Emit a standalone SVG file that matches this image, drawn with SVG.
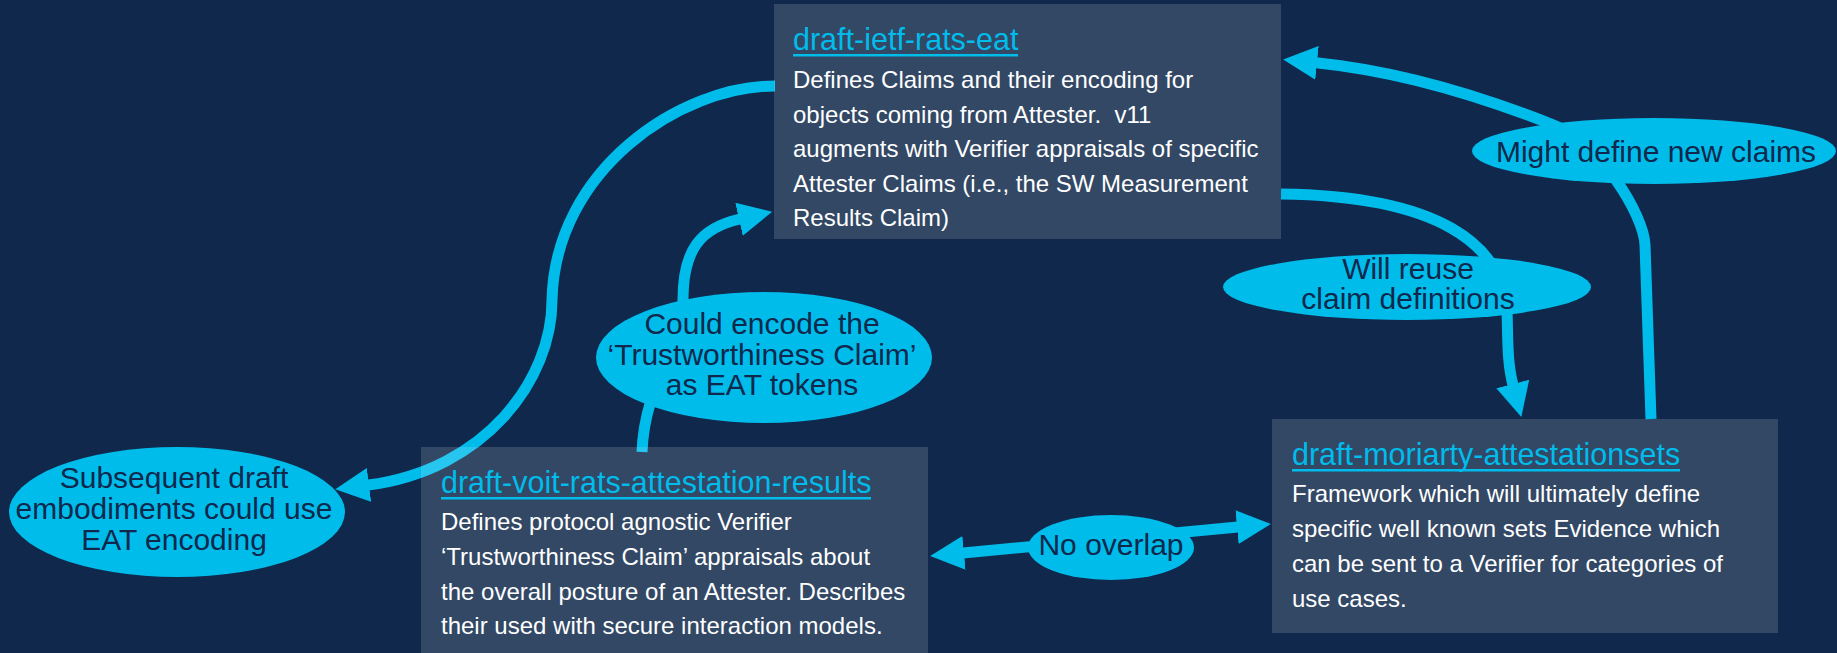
<svg xmlns="http://www.w3.org/2000/svg" width="1837" height="653" viewBox="0 0 1837 653">
  <defs>
    <style>
      .bg { fill: #0f284b; }
      .conn { fill: none; stroke: #00bceb; stroke-width: 11; }
      .box { fill: #ffffff; fill-opacity: 0.15; }
      .title { font-family: "Liberation Sans", Arial, sans-serif; font-size: 30.5px; fill: #00bceb; }
      .uline { fill: #00bceb; }
      .body { font-family: "Liberation Sans", Arial, sans-serif; font-size: 24px; fill: #ffffff; }
      .bubble { fill: #00bceb; }
      .blabel { font-family: "Liberation Sans", Arial, sans-serif; font-size: 30px; fill: #0f284b; text-anchor: middle; }
    </style>
    <marker id="arrow" markerUnits="userSpaceOnUse" viewBox="0 0 34 34" markerWidth="34" markerHeight="34" refX="1" refY="17" orient="auto-start-reverse">
      <path d="M0,0 L34,17 L0,34 Z" fill="#00bceb"/>
    </marker>
  </defs>

  <rect class="bg" x="0" y="0" width="1837" height="653"/>

  <!-- connectors -->
  <g id="connectors">
    <!-- EAT box to later embodiments (S-curve) -->
    <path class="conn" marker-end="url(#arrow)" d="M775,86 C680,86 555,170 552,300 C552,380 485,470 368,485"/>
    <!-- results draft to EAT box -->
    <path class="conn" marker-end="url(#arrow)" d="M642,452 C645,380 683,350 683,300 C683,250 700,228 740,219"/>
    <!-- EAT box to attestation sets -->
    <path class="conn" marker-end="url(#arrow)" d="M1281,194 C1440,196 1502,245 1507,310 C1508,340 1507,362 1513,385"/>
    <!-- attestation sets back to EAT box -->
    <path class="conn" marker-end="url(#arrow)" d="M1651,419 L1645,245 C1644,215 1600,144 1556,126 C1476,94 1396,70.7 1316,62.7"/>
    <!-- no overlap, both directions -->
    <path class="conn" marker-start="url(#arrow)" marker-end="url(#arrow)" d="M963,553 L1238,527"/>
  </g>

  <!-- connector labels -->
  <g id="label-subsequent">
    <ellipse class="bubble" cx="177" cy="512" rx="168" ry="65"/>
    <text class="blabel" x="174" y="488">Subsequent draft</text>
    <text class="blabel" x="174" y="519">embodiments could use</text>
    <text class="blabel" x="174" y="550">EAT encoding</text>
  </g>
  <g id="label-could-encode">
    <ellipse class="bubble" cx="764" cy="357.5" rx="168" ry="65.5"/>
    <text class="blabel" x="762" y="334">Could encode the</text>
    <text class="blabel" x="762" y="365">‘Trustworthiness Claim’</text>
    <text class="blabel" x="762" y="395">as EAT tokens</text>
  </g>
  <g id="label-will-reuse">
    <ellipse class="bubble" cx="1407" cy="287" rx="184" ry="33"/>
    <text class="blabel" x="1408" y="279">Will reuse</text>
    <text class="blabel" x="1408" y="309">claim definitions</text>
  </g>
  <g id="label-might-define">
    <ellipse class="bubble" cx="1654" cy="151" rx="182" ry="33"/>
    <text class="blabel" x="1656" y="162">Might define new claims</text>
  </g>
  <g id="label-no-overlap">
    <ellipse class="bubble" cx="1111" cy="547.5" rx="83" ry="32.5"/>
    <text class="blabel" x="1111" y="555">No overlap</text>
  </g>

  <!-- document nodes -->
  <g id="node-eat">
    <rect class="box" x="774" y="4" width="507" height="235"/>
    <text class="title" x="793" y="50">draft-ietf-rats-eat</text>
    <rect class="uline" x="793" y="54" width="225" height="2.5"/>
    <text class="body" x="793" y="88">Defines Claims and their encoding for</text>
    <text class="body" x="793" y="122.5" xml:space="preserve">objects coming from Attester.  v11</text>
    <text class="body" x="793" y="157">augments with Verifier appraisals of specific</text>
    <text class="body" x="793" y="191.5">Attester Claims (i.e., the SW Measurement</text>
    <text class="body" x="793" y="226">Results Claim)</text>
  </g>

  <g id="node-results">
    <rect class="box" x="421" y="447" width="507" height="210"/>
    <text class="title" x="441" y="493">draft-voit-rats-attestation-results</text>
    <rect class="uline" x="441" y="497" width="430" height="2.5"/>
    <text class="body" x="441" y="530">Defines protocol agnostic Verifier</text>
    <text class="body" x="441" y="565">‘Trustworthiness Claim’ appraisals about</text>
    <text class="body" x="441" y="600">the overall posture of an Attester. Describes</text>
    <text class="body" x="441" y="634">their used with secure interaction models.</text>
  </g>

  <g id="node-attestationsets">
    <rect class="box" x="1272" y="419" width="506" height="214"/>
    <text class="title" x="1292" y="465">draft-moriarty-attestationsets</text>
    <rect class="uline" x="1292" y="469" width="388" height="2.5"/>
    <text class="body" x="1292" y="502">Framework which will ultimately define</text>
    <text class="body" x="1292" y="537">specific well known sets Evidence which</text>
    <text class="body" x="1292" y="572">can be sent to a Verifier for categories of</text>
    <text class="body" x="1292" y="607">use cases.</text>
  </g>
</svg>
